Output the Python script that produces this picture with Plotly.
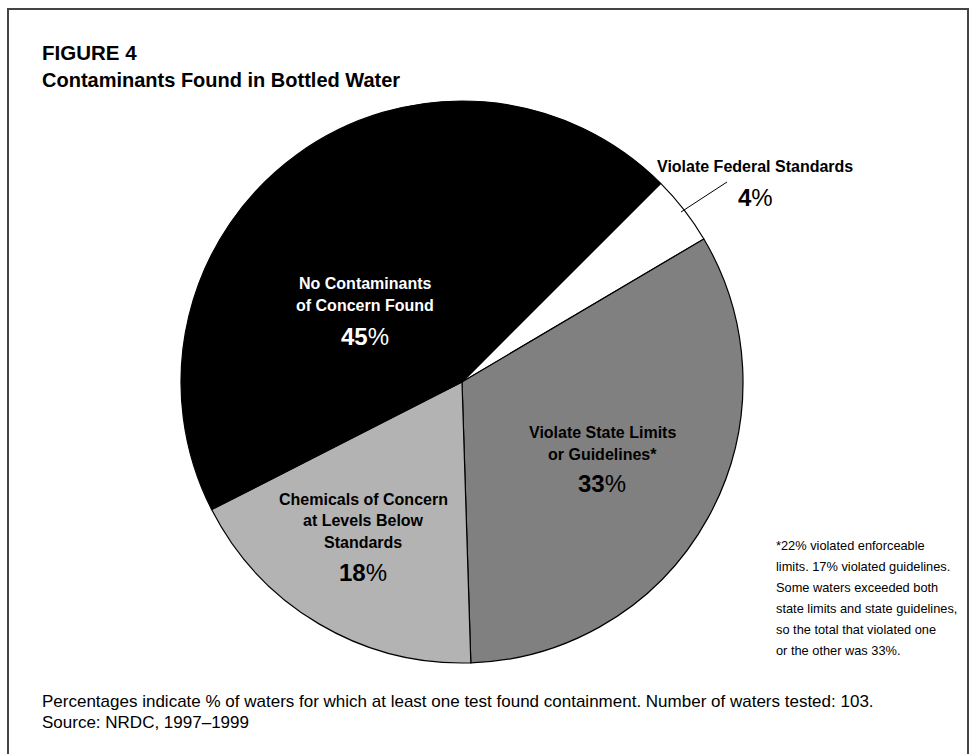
import plotly.graph_objects as go

W, H = 969, 754

# ---- data ----
labels = ["Violate Federal Standards", "Violate State Limits or Guidelines",
          "Chemicals of Concern at Levels Below Standards",
          "No Contaminants of Concern Found"]
values = [4, 33, 18, 45]
pct_text = ["4%", "33%", "18%", "45%"]
slice_colors = ["#ffffff", "#808080", "#b3b3b3", "#000000"]

title_line1 = "FIGURE 4"
title_line2 = "Contaminants Found in Bottled Water"
footnote_lines = ["*22% violated enforceable", "limits. 17% violated guidelines.",
                  "Some waters exceeded both", "state limits and state guidelines,",
                  "so the total that violated one", "or the other was 33%."]
source_lines = ["Percentages indicate % of waters for which at least one test found containment. Number of waters tested: 103.",
                "Source: NRDC, 1997\u20131999"]


def px(x):
    return x / W


def py(y):
    return 1 - y / H


BOLD = "Liberation Sans, Arial, sans-serif"
REG = "Liberation Sans, Arial, sans-serif"

cx, cy, r = 462, 382, 281

fig = go.Figure(go.Pie(
    labels=labels, values=values, sort=False, direction="clockwise",
    rotation=45, textinfo="none", hoverinfo="label+percent",
    marker=dict(colors=slice_colors, line=dict(color="#000000", width=1.2)),
    domain=dict(x=[px(cx - r), px(cx + r)], y=[py(cy + r), py(cy - r)]),
    showlegend=False,
))

ann = []
# titles
ann.append(dict(x=px(40), y=py(52), text="<b>" + title_line1 + "</b>", xanchor="left", yanchor="middle",
                font=dict(family=BOLD, size=20.5, color="#000")))
ann.append(dict(x=px(40), y=py(80), text="<b>" + title_line2 + "</b>", xanchor="left", yanchor="middle",
                font=dict(family=BOLD, size=20, color="#000")))

# slice labels: (name lines, pct, centre x, first line y, pct y, colour)
label_specs = [
    (["Violate Federal Standards"], pct_text[0], 755, 167, 197, "#000"),
    (["Violate State Limits", "or Guidelines*"], pct_text[1], 602, 432, 483, "#000"),
    (["Chemicals of Concern", "at Levels Below", "Standards"], pct_text[2], 363, 499, 572, "#000"),
    (["No Contaminants", "of Concern Found"], pct_text[3], 365, 283, 336, "#fff"),
]
for lines, pct, x, y0, yp, col in label_specs:
    step = 21.5 if len(lines) > 2 else 22.5
    for i, ln in enumerate(lines):
        ann.append(dict(x=px(x), y=py(y0 + i * step), text="<b>" + ln + "</b>",
                        xanchor="center", yanchor="middle",
                        font=dict(family=BOLD, size=16, color=col)))
    ann.append(dict(x=px(x), y=py(yp), text="<b>" + pct[:-1] + "</b>%",
                    xanchor="center", yanchor="middle",
                    font=dict(family=BOLD, size=24, color=col)))

# right footnote
for i, ln in enumerate(footnote_lines):
    ann.append(dict(x=px(774), y=py(545 + i * 21), text=ln, xanchor="left", yanchor="middle",
                    font=dict(family=REG, size=12.8, color="#000")))

# bottom source
for i, ln in enumerate(source_lines):
    ann.append(dict(x=px(40), y=py(701 + i * 21.5), text=ln, xanchor="left", yanchor="middle",
                    font=dict(family=REG, size=17, color="#000")))

for a in ann:
    a.update(xref="paper", yref="paper", showarrow=False)

shapes = [
    dict(type="rect", xref="paper", yref="paper", x0=px(8), x1=px(968), y0=py(770), y1=py(9),
         line=dict(color="#444444", width=2), fillcolor="rgba(0,0,0,0)"),
    dict(type="line", xref="paper", yref="paper", x0=px(681), y0=py(212), x1=px(727), y1=py(182),
         line=dict(color="#000000", width=1)),
]

fig.update_layout(
    width=W, height=H, margin=dict(l=0, r=0, t=0, b=0),
    paper_bgcolor="#ffffff", plot_bgcolor="#ffffff",
    annotations=ann, shapes=shapes,
)

fig.write_html("out.html")
